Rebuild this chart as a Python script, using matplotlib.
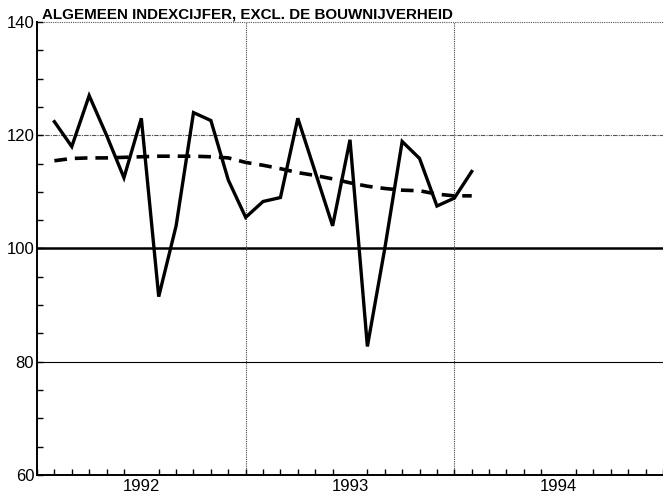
import matplotlib
matplotlib.use("Agg")
import matplotlib.pyplot as plt
import numpy as np

title = "ALGEMEEN INDEXCIJFER, EXCL. DE BOUWNIJVERHEID"
year_labels = ["1992", "1993", "1994"]
start_year = 1992
# months after Jan 1992 (end-of-month positions)
month_index = list(range(1, 26))
index_values = [122.4, 118.0, 127.0, 120.0, 112.5, 123.0, 91.5, 104.0, 124.0,
                122.6, 112.1, 105.5, 108.3, 109.0, 123.0, 113.5, 104.0, 119.2,
                82.7, 100.0, 118.9, 115.9, 107.5, 108.9, 113.6]
trend_values = [115.5, 115.9, 116.0, 116.0, 116.1, 116.2, 116.3, 116.3, 116.3,
                116.2, 116.0, 115.2, 114.7, 114.1, 113.4, 112.9, 112.3, 111.6,
                111.0, 110.6, 110.3, 110.2, 109.6, 109.3, 109.3]
y_ticks = [60, 80, 100, 120, 140]

plt.rcParams['font.family'] = ['Liberation Sans', 'DejaVu Sans']

fig = plt.figure(figsize=(6.63, 4.99), dpi=100)
ax = fig.add_axes([37/663, 1 - 475/499, 1 - 37/663, (475 - 22)/499])

x = start_year + np.array(month_index) / 12.0

ax.set_xlim(1992, 1995)
ax.set_ylim(60, 140)

# reference lines
ax.axhline(100, color='black', lw=1.8, zorder=1)
ax.axhline(80, color='black', lw=0.8, zorder=1)
ax.axhline(120, color='#555555', lw=0.8, ls=(0, (4, 1, 1, 1)), zorder=1)
ax.axhline(140, color='#555555', lw=0.8, ls=(0, (1, 1)), zorder=1, clip_on=False)
for yb in [1993, 1994]:
    ax.axvline(yb, color='#444444', lw=0.8, ls=(0, (1, 1)), zorder=1)

ax.plot(x, index_values, color='black', lw=2.4, solid_joinstyle='miter', zorder=3)
ax.plot(x, trend_values, color='black', lw=2.6, ls=(0, (3.5, 2.2)), zorder=3)

for s in ['top', 'right']:
    ax.spines[s].set_visible(False)
ax.spines['left'].set_linewidth(1.4)
ax.spines['bottom'].set_linewidth(1.4)

ax.set_yticks(y_ticks)
ax.set_yticklabels([str(v) for v in y_ticks], fontsize=12)
ax.set_yticks(np.arange(60, 141, 5), minor=True)
ax.tick_params(axis='y', which='both', direction='in', length=4, width=1, pad=2)

ax.set_xticks(np.arange(1992, 1995 + 1e-9, 1/12), minor=True)
ax.set_xticks([1992.5, 1993.5, 1994.5])
ax.set_xticklabels(year_labels, fontsize=12)
ax.tick_params(axis='x', which='major', length=0, pad=3)
ax.tick_params(axis='x', which='minor', direction='in', length=4, width=1)

fig.text(42/663, 1 - 18.5/499, title, fontsize=10.9, fontweight='bold',
         ha='left', va='baseline')

fig.savefig("out.png", dpi=100)
